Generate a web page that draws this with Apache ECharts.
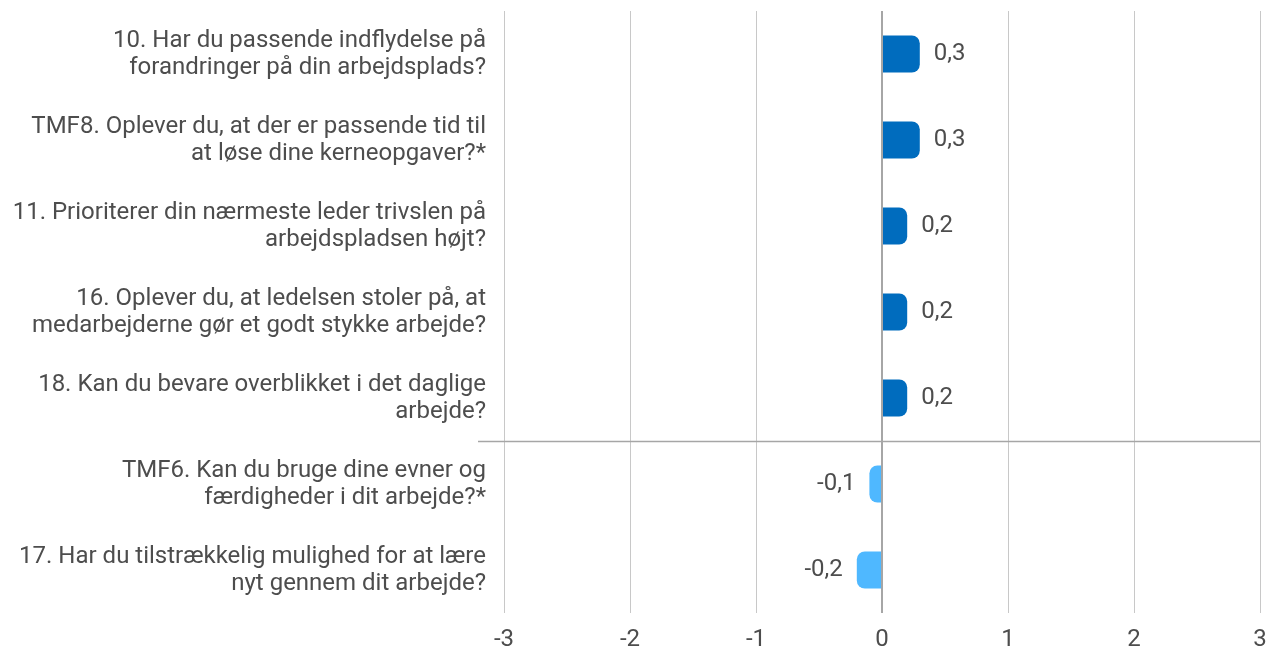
<!DOCTYPE html>
<html>
<head>
<meta charset="utf-8" />
<title></title>
<script src="https://cdn.jsdelivr.net/npm/echarts@6/dist/echarts.min.js"></script>
<style>
html, body { margin: 0; padding: 0; width: 100%; height: 100%; background: #fff; }
#container { width: 1274px; height: 651px; }
</style>
</head>
<body>
<div id="container"></div>
<script>
var questions = [
	'10. Har du passende indflydelse på\nforandringer på din arbejdsplads?',
	'TMF8. Oplever du, at der er passende tid til\nat løse dine kerneopgaver?*',
	'11. Prioriterer din nærmeste leder trivslen på\narbejdspladsen højt?',
	'16. Oplever du, at ledelsen stoler på, at\nmedarbejderne gør et godt stykke arbejde?',
	'18. Kan du bevare overblikket i det daglige\narbejde?',
	'TMF6. Kan du bruge dine evner og\nfærdigheder i dit arbejde?*',
	'17. Har du tilstrækkelig mulighed for at lære\nnyt gennem dit arbejde?'
];
var scores = [0.3, 0.3, 0.2, 0.2, 0.2, -0.1, -0.2];
var xTicks = [-3, -2, -1, 0, 1, 2, 3];

var posColor = '#006cbe';
var negColor = '#4fb8ff';
var textColor = '#4d4d4d';

var dom = document.getElementById('container');
var myChart = echarts.init(dom);

var barData = scores.map(function (v) {
	return {
		value: v,
		itemStyle: {
			color: v >= 0 ? posColor : negColor,
			borderRadius: v >= 0 ? [0, 8, 8, 0] : [8, 0, 0, 8]
		},
		label: { position: v >= 0 ? 'right' : 'left' }
	};
});

var option = {
	animation: false,
	textStyle: { fontFamily: 'Roboto' },
	grid: { left: 504, right: 14, top: 11, bottom: 38, containLabel: false, outerBoundsMode: 'none' },
	xAxis: {
		type: 'value',
		min: xTicks[0],
		max: xTicks[xTicks.length - 1],
		interval: 1,
		axisLine: { show: false },
		axisTick: { show: false },
		splitLine: { lineStyle: { color: '#c8c8c8', width: 1 } },
		axisLabel: { color: textColor, fontSize: 24, margin: 15 }
	},
	yAxis: {
		type: 'category',
		inverse: true,
		data: questions,
		axisLine: { show: false, onZero: false },
		axisTick: { show: false },
		splitLine: { show: false },
		axisLabel: {
			color: textColor,
			fontSize: 24,
			lineHeight: 27,
			margin: 18,
			align: 'right',
			padding: [3, 0, 0, 0]
		}
	},
	series: [{
		type: 'bar',
		data: barData,
		barWidth: 37,
		label: {
			show: true,
			color: textColor,
			fontSize: 24,
			distance: 14,
			padding: [4, 0, 0, 0],
			formatter: function (p) { return String(p.value).replace('.', ','); }
		},
		markLine: {
			silent: true,
			symbol: 'none',
			label: { show: false },
			lineStyle: { color: '#a6a6a6', width: 2, type: 'solid' },
			data: [{ xAxis: 0 }]
		}
	}]
};

myChart.setOption(option);

// separator between positive and negative groups, placed from the axis scale
var yTop = myChart.convertToPixel({ yAxisIndex: 0 }, 4);
var yBot = myChart.convertToPixel({ yAxisIndex: 0 }, 5);
var ySep = Math.round((yTop + yBot) / 2) + 0.5;
var xRight = myChart.convertToPixel({ xAxisIndex: 0 }, xTicks[xTicks.length - 1]);
myChart.setOption({
	graphic: [{
		type: 'line',
		silent: true,
		z: 5,
		shape: { x1: 478, y1: ySep, x2: xRight, y2: ySep },
		style: { stroke: '#a6a6a6', lineWidth: 1.5 }
	}]
});
</script>
</body>
</html>
